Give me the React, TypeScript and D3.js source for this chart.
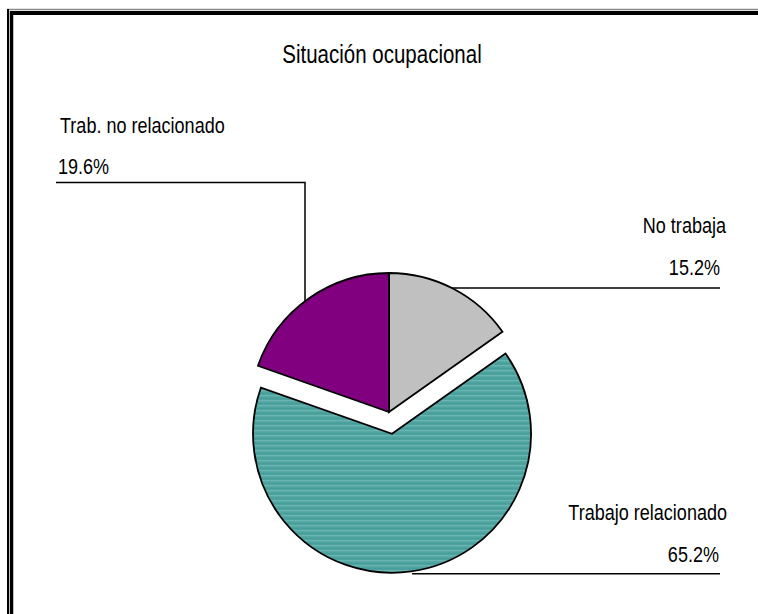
import * as d3 from 'd3';

const categories = ['No trabaja', 'Trabajo relacionado', 'Trab. no relacionado'];
const shares = [15.2, 65.2, 19.6];
const colors = ['#c0c0c0', '#4a9f9b', '#800080'];
const exploded = [false, true, false];

const W = 758;
const H = 614;
// Arial Narrow is not installed: squeeze Liberation Sans horizontally instead
const FONT = '"Liberation Sans", Arial, sans-serif';
const NARROW = 0.82;

function Label({ x, y, anchor = 'start', size = 22, children }: any) {
  return (
    <text
      transform={`translate(${x},${y}) scale(${NARROW},1)`}
      textAnchor={anchor}
      fontFamily={FONT}
      fontSize={size}
      fill="#000"
    >
      {children}
    </text>
  );
}

export default function App() {
  const cx = 389;
  const cy = 412;
  const r = 139;
  const explode = 22;

  const pie = d3.pie<number>().sort(null).startAngle(0).endAngle(2 * Math.PI);
  const arcs = pie(shares);
  const arc = d3.arc<d3.PieArcDatum<number>>().innerRadius(0).outerRadius(r);

  const offset = (a: d3.PieArcDatum<number>, i: number) => {
    if (!exploded[i]) return [0, 0];
    const mid = (a.startAngle + a.endAngle) / 2;
    return [Math.sin(mid) * explode, -Math.cos(mid) * explode];
  };

  // leader line anchors on the pie edge
  const purpleX = 305;
  const purpleY = cy - Math.sqrt(r * r - (purpleX - cx) ** 2);
  const greyY = 288;
  const greyX = cx + Math.sqrt(r * r - (greyY - cy) ** 2);
  const tealOff = offset(arcs[1], 1);
  const tealY = cy + tealOff[1] + r + 1;
  const tealX = cx + tealOff[0] + 20;

  return (
    <svg width={W} height={H} style={{ position: 'absolute', left: 0, top: 0, background: '#fff' }}>
      <defs>
        <pattern id="teal" width="8" height="5" patternUnits="userSpaceOnUse">
          <rect width="8" height="5" fill="#469d99" />
          <rect y="1" width="8" height="1.5" fill="#6cb8b4" />
          <rect y="3.4" width="8" height="0.7" fill="#5aaca8" />
        </pattern>
      </defs>
      {/* frame */}
      <line x1={7} x2={W} y1={9.5} y2={9.5} stroke="#888" strokeWidth={1.5} />
      <line x1={8} x2={8} y1={9} y2={H} stroke="#000" strokeWidth={2} />
      <line x1={11.5} x2={W} y1={13} y2={13} stroke="#000" strokeWidth={4} />
      <line x1={11.5} x2={11.5} y1={11} y2={H} stroke="#000" strokeWidth={3.5} />

      <Label x={382} y={63} anchor="middle" size={25}>
        Situación ocupacional
      </Label>

      {arcs.map((a, i) => {
        const [dx, dy] = offset(a, i);
        return (
          <path
            key={categories[i]}
            d={arc(a) || ''}
            transform={`translate(${cx + dx},${cy + dy})`}
            fill={i === 1 ? 'url(#teal)' : colors[i]}
            stroke="#000"
            strokeWidth={1.8}
          />
        );
      })}

      {/* leader lines */}
      <polyline
        points={`56,182.5 ${purpleX},182.5 ${purpleX},${purpleY}`}
        fill="none"
        stroke="#000"
        strokeWidth={1.5}
      />
      <line x1={greyX} x2={720} y1={greyY} y2={greyY} stroke="#000" strokeWidth={1.5} />
      <line x1={tealX} x2={720} y1={tealY} y2={tealY} stroke="#000" strokeWidth={1.5} />

      {/* labels */}
      <Label x={60} y={133}>{categories[2]}</Label>
      <Label x={58} y={174}>{shares[2].toFixed(1)}%</Label>
      <Label x={726} y={233} anchor="end">{categories[0]}</Label>
      <Label x={720} y={275} anchor="end">{shares[0].toFixed(1)}%</Label>
      <Label x={727} y={520} anchor="end">{categories[1]}</Label>
      <Label x={719} y={562} anchor="end">{shares[1].toFixed(1)}%</Label>
    </svg>
  );
}
